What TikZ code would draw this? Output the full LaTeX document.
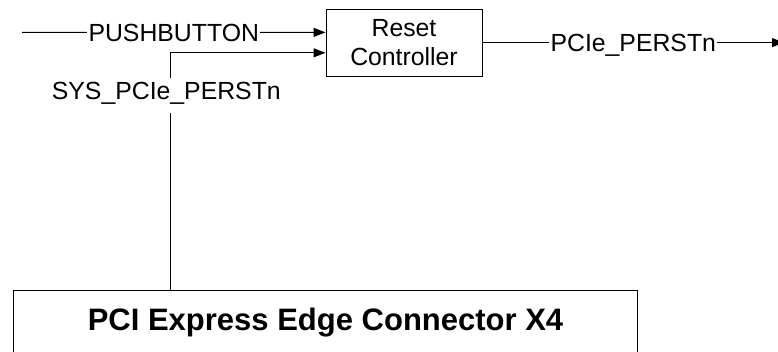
\documentclass[tikz,border=0pt]{standalone}
\usepackage{fontspec}
\setmainfont{Liberation Sans}
\usetikzlibrary{arrows.meta}
\begin{document}
\begin{tikzpicture}[x=1pt,y=-1pt,
  sig/.style={line width=1pt, -{Triangle[length=12pt,width=9pt]}},
  box/.style={draw, line width=1pt, inner sep=0pt},
  txt/.style={font=\fontsize{24.8pt}{29.5pt}\selectfont},
  lbl/.style={txt, fill=white, inner xsep=1.5pt, inner ysep=2pt, text height=17.7pt, text depth=0pt},
  syslbl/.style={txt, fill=white, inner xsep=2pt, inner ysep=4pt, text height=18pt, text depth=9pt},
  bigtxt/.style={font=\bfseries\fontsize{31pt}{36pt}\selectfont}]
\useasboundingbox (0,0) rectangle (778,351);

\node[box, txt, minimum width=156pt, minimum height=67pt, align=center] (reset) at (404,42.6) {Reset\\Controller};

\coordinate (pbin) at (22,32.4);
\coordinate (out) at (784,42.6);
\coordinate (in1) at ([yshift=10.2pt]reset.west);
\coordinate (in2) at ([yshift=-10.2pt]reset.west);
\coordinate (sysbend) at (170,52.8);

\node[box, anchor=north west, minimum width=624pt, minimum height=120pt] (edge) at (13,290) {};
\node[bigtxt, anchor=base] (edgelbl) at ([yshift=-40pt]edge.north) {PCI Express Edge Connector X4};

\draw[sig] (pbin) -- node[lbl] (pblbl) {PUSHBUTTON} (in1);
\draw[sig] (reset.east) -- node[lbl] (outlbl) {PCIe\_PERSTn} (out);
\draw[sig] (sysbend |- edge.north) -- node[syslbl, pos=0.82, xshift=-3.7pt] (syslabel) {SYS\_PCIe\_PERSTn} (sysbend) -- (in2);
\end{tikzpicture}
\end{document}
